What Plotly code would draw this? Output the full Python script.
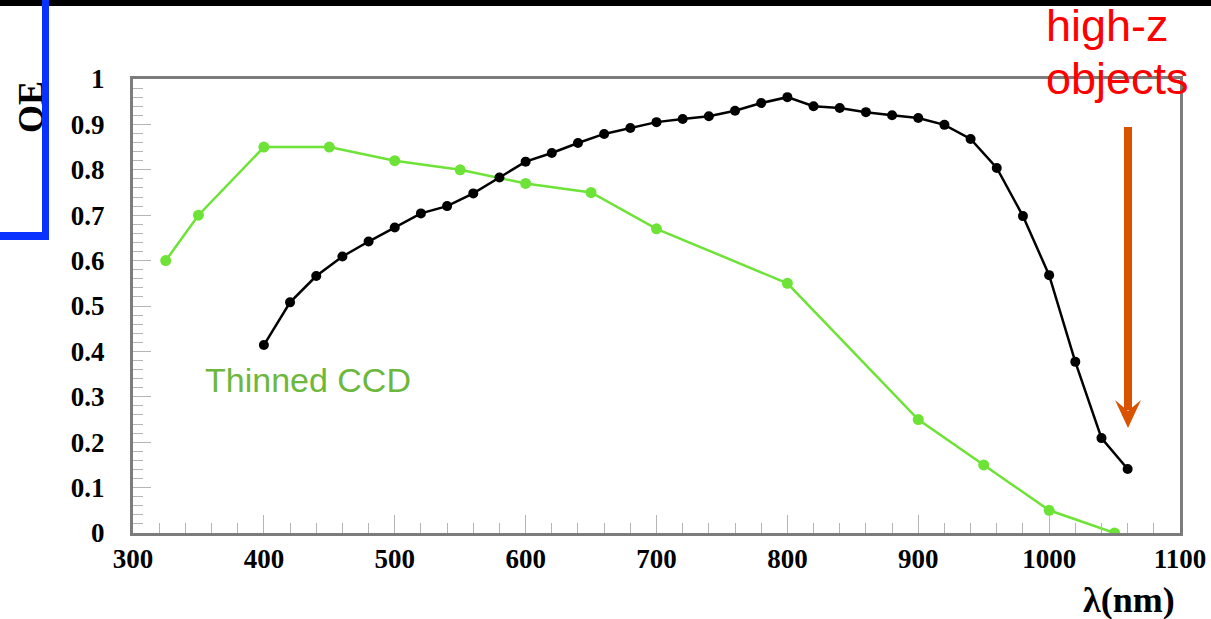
import plotly.graph_objects as go

# Canvas and plot-area geometry (pixels)
W, H = 1211, 619
ML, MR, MT, MB = 133, 31, 79, 86
PW, PH = W - ML - MR, H - MT - MB


def px(x):
    """Pixel column -> paper x."""
    return (x - ML) / PW


def py(y):
    """Pixel row -> paper y."""
    return (H - MB - y) / PH


# Thinned CCD quantum efficiency
ccd_wavelength = [325, 350, 400, 450, 500, 550, 600, 650, 700, 800, 900, 950, 1000, 1050]
ccd_qe = [0.60, 0.70, 0.85, 0.85, 0.82, 0.80, 0.77, 0.75, 0.67, 0.55, 0.25, 0.15, 0.05, 0.0]

# Deep-depletion CCD quantum efficiency
deep_wavelength = [400, 420, 440, 460, 480, 500, 520, 540, 560, 580, 600, 620,
                   640, 660, 680, 700, 720, 740, 760, 780, 800, 820, 840, 860,
                   880, 900, 920, 940, 960, 980, 1000, 1020, 1040, 1060]
deep_qe = [0.414, 0.508, 0.566, 0.609, 0.642, 0.673, 0.704, 0.720, 0.748, 0.783,
           0.818, 0.837, 0.859, 0.879, 0.892, 0.905, 0.912, 0.918, 0.930, 0.947,
           0.960, 0.940, 0.936, 0.927, 0.920, 0.914, 0.899, 0.868, 0.804, 0.698,
           0.568, 0.377, 0.209, 0.141]

x_ticks = [300, 400, 500, 600, 700, 800, 900, 1000, 1100]
y_ticks = [0, 0.1, 0.2, 0.3, 0.4, 0.5, 0.6, 0.7, 0.8, 0.9, 1]
y_tick_labels = ["0", "0.1", "0.2", "0.3", "0.4", "0.5", "0.6", "0.7", "0.8", "0.9", "1"]

GREEN = "#6ee337"
TICK_FONT = dict(family="Liberation Serif", size=27, color="black", weight="bold")

fig = go.Figure()
fig.add_trace(go.Scatter(
    x=ccd_wavelength, y=ccd_qe, mode="lines+markers",
    line=dict(color=GREEN, width=2.5),
    marker=dict(color=GREEN, size=11),
    showlegend=False, hoverinfo="skip",
))
fig.add_trace(go.Scatter(
    x=deep_wavelength, y=deep_qe, mode="lines+markers",
    line=dict(color="black", width=2.5),
    marker=dict(color="black", size=10),
    showlegend=False, hoverinfo="skip",
))

axis_common = dict(
    ticks="inside", ticklen=18, tickwidth=1, tickcolor="#b5b5b5",
    showline=True, linecolor="#7c7c7c", linewidth=3, mirror=True,
    showgrid=False, zeroline=False, tickfont=TICK_FONT, automargin=False,
)
fig.update_xaxes(
    range=[300, 1100], tickvals=x_ticks,
    minor=dict(dtick=20, tick0=300, ticks="inside", ticklen=10, tickwidth=1, tickcolor="#b5b5b5"),
    ticklabelstandoff=0,
    **axis_common,
)
fig.update_yaxes(
    range=[0, 1], tickvals=y_ticks, ticktext=y_tick_labels,
    minor=dict(dtick=0.02, tick0=0, ticks="inside", ticklen=10, tickwidth=1, tickcolor="#b5b5b5"),
    ticklabelstandoff=20,
    **axis_common,
)

shapes = [
    # black strip along the top edge
    dict(type="rect", xref="paper", yref="paper", x0=px(0), x1=px(W), y0=py(0), y1=py(6),
         fillcolor="black", line=dict(width=0), layer="above"),
    # orange arrow shaft and head
    dict(type="rect", xref="paper", yref="paper", x0=px(1124), x1=px(1132), y0=py(127), y1=py(410),
         fillcolor="#d95200", line=dict(width=0), layer="above"),
    dict(type="path", xref="paper", yref="paper",
         path=f"M {px(1115)},{py(400)} L {px(1128)},{py(428)} L {px(1141)},{py(400)} "
              f"L {px(1128)},{py(411)} Z",
         fillcolor="#d95200", line=dict(width=0), layer="above"),
]

RED_FONT = dict(family="Liberation Sans", size=45, color="#ff0000")

annotations = [
    dict(text="QE", xref="paper", yref="paper", x=px(31), y=py(107),
         xanchor="center", yanchor="middle", textangle=-90, showarrow=False,
         font=dict(family="Liberation Serif", size=36, color="black", weight="bold")),
    # blue bracket drawn after the label so it sits on top of it
    dict(text=" ", xref="paper", yref="paper", x=px(42), y=py(0), xanchor="left", yanchor="top",
         width=7, height=240, bgcolor="#0a32ff", borderpad=0, borderwidth=0, showarrow=False),
    dict(text=" ", xref="paper", yref="paper", x=px(0), y=py(232), xanchor="left", yanchor="top",
         width=49, height=8, bgcolor="#0a32ff", borderpad=0, borderwidth=0, showarrow=False),
    dict(text="λ(nm)", xref="paper", yref="paper", x=px(1129), y=py(600),
         xanchor="center", yanchor="middle", showarrow=False,
         font=dict(family="Liberation Serif", size=36, color="black", weight="bold")),
    dict(text="Thinned CCD", xref="paper", yref="paper", x=px(203), y=py(380),
         xanchor="left", yanchor="middle", showarrow=False,
         font=dict(family="Liberation Sans", size=34, color="#6cb83c")),
    dict(text="high-z", xref="paper", yref="paper", x=px(1044), y=py(-2),
         xanchor="left", yanchor="top", showarrow=False, font=RED_FONT),
    dict(text="objects", xref="paper", yref="paper", x=px(1044), y=py(51),
         xanchor="left", yanchor="top", showarrow=False, font=RED_FONT),
]

fig.update_layout(
    width=W, height=H,
    margin=dict(l=ML, r=MR, t=MT, b=MB, pad=0, autoexpand=False),
    paper_bgcolor="white", plot_bgcolor="white",
    shapes=shapes, annotations=annotations,
)

fig.write_html("out.html", config={"displayModeBar": False})
